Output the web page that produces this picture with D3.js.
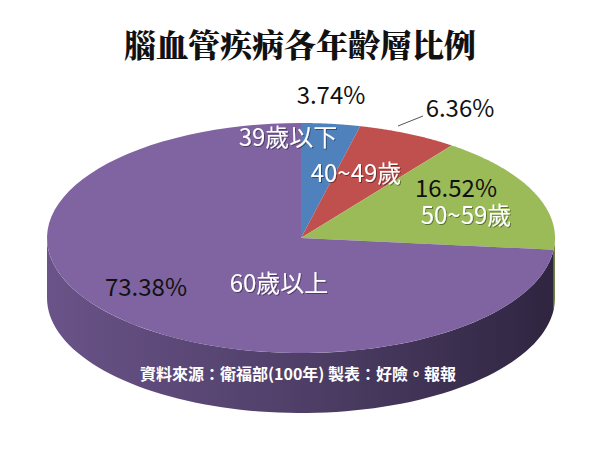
<!DOCTYPE html>
<html><head><meta charset="utf-8">
<script src="https://cdn.jsdelivr.net/npm/d3@7"></script>
<style>body{margin:0;background:#fff}svg{display:block}</style></head>
<body><svg id="c" width="600" height="459"></svg>
<script>
const categories = ["39歲以下","40~49歲","50~59歲","60歲以上"];
const values = [3.74, 6.36, 16.52, 73.38];
const pctLabels = ["3.74%","6.36%","16.52%","73.38%"];
const colors = ["#4f81bd","#c0504d","#9bbb59","#8064a2"];
const title = "腦血管疾病各年齡層比例";
const source = "資料來源：衛福部(100年)  製表：好險。報報";

const svg = d3.select("#c");
const cx=301, cy=238, rx=254, ry=115, depth=60;
const font = "'Noto Sans CJK TC','Noto Sans',sans-serif";
const pie = d3.pie().sort(null).value(d=>d)(values);
const P = a => [cx + rx*Math.sin(a), cy - ry*Math.cos(a)];

const defs = svg.append("defs");
const g = defs.append("linearGradient").attr("id","side").attr("x1","0").attr("x2","1");
g.append("stop").attr("offset","0").attr("stop-color","#6a5388");
g.append("stop").attr("offset","0.5").attr("stop-color","#4f3f68");
g.append("stop").attr("offset","1").attr("stop-color","#2f2540");
const f = defs.append("filter").attr("id","sh");
f.append("feDropShadow").attr("dx",1).attr("dy",1).attr("stdDeviation",0.6).attr("flood-color","#000").attr("flood-opacity",0.4);

function arcPts(a0,a1,dy){const n=80,pts=[];for(let i=0;i<=n;i++){const a=a0+(a1-a0)*i/n;const p=P(a);pts.push([p[0],p[1]+dy]);}return pts;}

pie.forEach((s,i)=>{
  const a0=Math.max(s.startAngle,Math.PI/2), a1=Math.min(s.endAngle,3*Math.PI/2);
  if(a1<=a0) return;
  const top=arcPts(a0,a1,0), bot=arcPts(a1,a0,depth);
  svg.append("path").attr("d",d3.line()(top.concat(bot))+"Z").attr("fill",i===3?"url(#side)":d3.color(colors[i]).darker(1));
});
pie.forEach((s,i)=>{
  const pts=[[cx,cy]].concat(arcPts(s.startAngle,s.endAngle,0));
  svg.append("path").attr("d",d3.line()(pts)+"Z").attr("fill",colors[i]);
});

svg.append("text").attr("x",300).attr("y",57).attr("text-anchor","middle")
  .attr("font-family","'Noto Serif CJK TC','Noto Sans CJK TC',serif").attr("font-weight",900)
  .attr("font-size",32).attr("fill","#111").text(title);

const catPos=[[288,146],[356,182],[466,224],[279,292]];
const pctPos=[[331,104],[460,117],[456,197],[146,296]];
const txt=(x,y,t,fill,size)=>svg.append("text").attr("x",x).attr("y",y).attr("text-anchor","middle")
  .attr("font-family",font).attr("font-size",size).attr("fill",fill).text(t);
categories.forEach((c,i)=>{
  txt(catPos[i][0],catPos[i][1],c,"#fff",24).attr("filter","url(#sh)");
  txt(pctPos[i][0],pctPos[i][1],pctLabels[i],"#111",24);
});
svg.append("line").attr("x1",398).attr("y1",126).attr("x2",423).attr("y2",116).attr("stroke","#555");
svg.append("text").attr("x",298).attr("y",380).attr("text-anchor","middle").attr("font-family",font)
  .attr("font-weight",700).attr("font-size",16).attr("fill","#fff").text(source);
</script></body></html>
